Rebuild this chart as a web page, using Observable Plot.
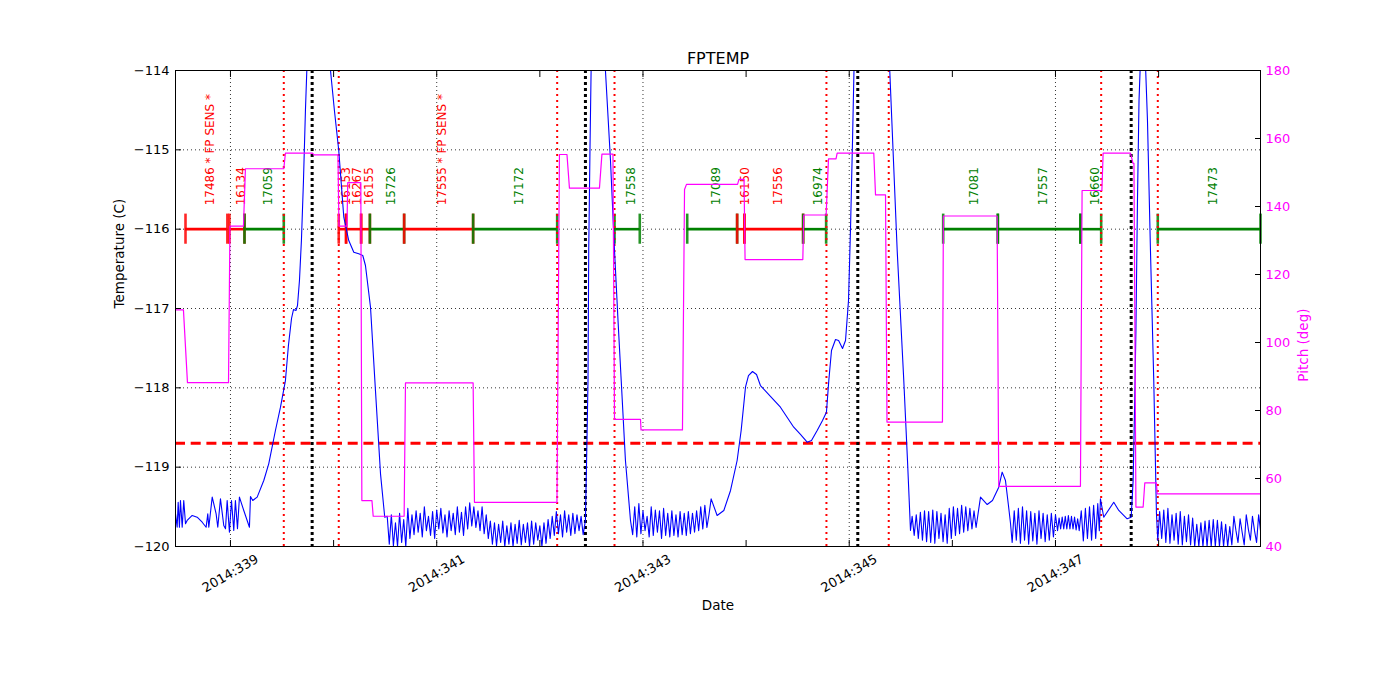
<!DOCTYPE html>
<html><head><meta charset="utf-8">
<script src="https://cdn.jsdelivr.net/npm/d3@7"></script>
<script src="https://cdn.jsdelivr.net/npm/@observablehq/plot@0.6"></script>
<style>body{margin:0;background:#fff;}</style>
</head><body><div id="chart"></div>
<script>
const chartTitle = "FPTEMP";
const xTickDays = [339,340,341,342,343,344,345,346,347,348];
const xLabelDays = [339,341,343,345,347];
const tempTicks = [-120,-119,-118,-117,-116,-115,-114];
const pitchTicks = [40,60,80,100,120,140,160,180];
const planLimit = -118.7;
const redEvents = [339.517,340.050,342.168,342.724,344.779,345.383,347.443,347.992];
const blackEvents = [339.792,342.442,345.083,347.734];

const segStart = [338.564,338.990,339.136,340.050,340.121,340.267,340.352,340.684,341.353,342.724,343.429,343.913,343.984,344.553,345.911,346.441,347.242,347.992];
const segEnd   = [338.970,339.136,339.517,340.121,340.267,340.352,340.684,341.353,342.168,342.969,343.913,343.984,344.553,344.776,346.441,347.242,347.443,348.988];
const segLabel = ["17486 * FP SENS *","16134","17059","16153","16267","16155","15726","17555 * FP SENS *","17172","17558","17089","16150","17556","16974","17081","17557","16660","17473"];
const segFlag  = [1,1,0,1,1,1,0,1,0,0,0,1,1,0,0,0,0,0];
const segLevel = -116;

const fptemp = [
[338.467,-119.588],[338.483,-119.757],[338.493,-119.442],[338.505,-119.757],[338.515,-119.420],[338.532,-119.757],[338.547,-119.420],[338.564,-119.714],[338.580,-119.672],[338.629,-119.609],[338.677,-119.631],[338.726,-119.694],[338.764,-119.757],[338.780,-119.588],[338.790,-119.757],[338.823,-119.378],[338.861,-119.588],[338.877,-119.757],[338.903,-119.399],[338.935,-119.735],[338.952,-119.777],[338.968,-119.420],[338.990,-119.820],[339.010,-119.420],[339.032,-119.798],[339.048,-119.420],[339.068,-119.777],[339.087,-119.378],[339.129,-119.546],[339.184,-119.757],[339.194,-119.370],[339.216,-119.420],[339.259,-119.378],[339.323,-119.168],[339.371,-118.958],[339.436,-118.538],[339.485,-118.244],[339.533,-117.908],[339.562,-117.466],[339.592,-117.126],[339.611,-117.013],[339.635,-117.025],[339.650,-116.962],[339.669,-116.647],[339.688,-116.143],[339.708,-115.387],[339.727,-114.504],[339.747,-113.748],[339.766,-112.866],[339.795,-112.0],[339.834,-111.37],[339.873,-111.74],[339.912,-112.36],[339.950,-113.50],[339.970,-114.0],[340.008,-114.504],[340.050,-115.008],[340.099,-115.849],[340.147,-116.143],[340.196,-116.290],[340.244,-116.311],[340.283,-116.332],[340.309,-116.458],[340.358,-116.984],[340.406,-118.034],[340.455,-119.084],[340.496,-119.631],
[340.52,-119.62],[340.54,-119.97],[340.56,-119.6],[340.58,-119.99],[340.60,-119.7],[340.62,-120.0],[340.64,-119.58],[340.66,-119.95],[340.68,-119.66],[340.70,-120.0],[340.72,-119.52],[340.74,-119.9],[340.76,-119.6],[340.78,-119.85],[340.80,-119.55],[340.82,-119.82],[340.84,-119.58],[340.86,-119.88],[340.88,-119.5],[340.90,-119.8],[340.92,-119.62],[340.94,-119.86],[340.96,-119.56],[340.98,-119.9],[341.00,-119.54],[341.02,-119.78],[341.04,-119.52],[341.06,-119.83],[341.08,-119.6],[341.10,-119.88],[341.12,-119.55],[341.14,-119.8],[341.16,-119.58],[341.18,-119.85],[341.20,-119.5],[341.22,-119.82],[341.24,-119.57],[341.26,-119.86],[341.28,-119.5],[341.30,-119.78],[341.32,-119.45],[341.34,-119.74],[341.36,-119.5],[341.38,-119.76],[341.40,-119.55],[341.42,-119.8],[341.44,-119.5],[341.46,-119.84],[341.48,-119.6],[341.50,-119.9],[341.52,-119.68],[341.54,-119.97],[341.56,-119.7],[341.58,-119.99],[341.60,-119.72],[341.62,-119.95],[341.64,-119.68],[341.66,-120.0],[341.68,-119.74],[341.70,-119.97],[341.72,-119.7],[341.74,-120.0],[341.76,-119.72],[341.78,-119.96],[341.80,-119.67],[341.82,-119.98],[341.84,-119.72],[341.86,-119.95],[341.88,-119.7],[341.90,-120.0],[341.92,-119.68],[341.94,-119.97],[341.96,-119.7],[341.98,-119.92],[342.00,-119.74],[342.02,-120.0],[342.04,-119.7],[342.06,-119.96],[342.08,-119.66],[342.10,-119.9],[342.12,-119.62],[342.14,-119.86],[342.16,-119.56],[342.18,-119.84],[342.20,-119.6],[342.22,-119.88],[342.24,-119.55],[342.26,-119.82],[342.28,-119.6],[342.30,-119.86],[342.32,-119.58],[342.34,-119.84],[342.36,-119.6],[342.38,-119.8],[342.40,-119.62],[342.42,-119.85],[342.442,-119.67],
[342.457,-118.66],[342.467,-117.908],[342.474,-116.269],[342.486,-115.008],[342.497,-114.0],[342.520,-112.11],[342.559,-111.35],[342.598,-112.36],[342.636,-114.0],[342.685,-115.134],[342.724,-116.269],[342.758,-117.151],[342.789,-117.908],[342.830,-118.916],[342.879,-119.672],
[342.90,-119.85],[342.92,-119.5],[342.94,-119.88],[342.96,-119.46],[342.98,-119.84],[343.00,-119.55],[343.02,-119.8],[343.04,-119.62],[343.06,-119.88],[343.08,-119.5],[343.10,-119.86],[343.12,-119.54],[343.14,-119.82],[343.16,-119.55],[343.18,-119.9],[343.20,-119.52],[343.22,-119.86],[343.24,-119.58],[343.26,-119.88],[343.28,-119.55],[343.30,-119.86],[343.32,-119.6],[343.34,-119.88],[343.36,-119.56],[343.38,-119.85],[343.40,-119.58],[343.42,-119.86],[343.44,-119.56],[343.46,-119.84],[343.48,-119.58],[343.50,-119.82],[343.52,-119.55],[343.54,-119.8],[343.56,-119.5],[343.58,-119.78],[343.60,-119.48],[343.62,-119.76],[343.64,-119.6],
[343.661,-119.399],[343.719,-119.609],[343.784,-119.546],[343.849,-119.294],[343.913,-118.916],[343.952,-118.538],[343.994,-117.992],[344.023,-117.845],[344.062,-117.794],[344.101,-117.832],[344.139,-117.971],[344.236,-118.109],[344.333,-118.244],[344.462,-118.496],[344.527,-118.588],[344.592,-118.685],[344.634,-118.664],[344.689,-118.538],[344.741,-118.412],[344.779,-118.307],[344.802,-117.908],[344.828,-117.529],[344.867,-117.391],[344.897,-117.403],[344.935,-117.504],[344.964,-117.403],[344.993,-116.899],[345.012,-116.017],[345.032,-114.882],[345.046,-114.0],[345.071,-112.487],[345.129,-111.227],[345.206,-110.597],[345.284,-111.10],[345.342,-112.361],[345.393,-114.0],[345.465,-116.269],[345.529,-117.908],[345.565,-118.916],[345.594,-119.798],
[345.61,-119.62],[345.63,-119.86],[345.65,-119.6],[345.67,-119.9],[345.69,-119.57],[345.71,-119.92],[345.73,-119.55],[345.75,-119.94],[345.77,-119.56],[345.79,-119.95],[345.81,-119.54],[345.83,-119.96],[345.85,-119.56],[345.87,-119.9],[345.89,-119.58],[345.91,-119.94],[345.93,-119.6],[345.95,-119.96],[345.97,-119.52],[345.99,-119.9],[346.01,-119.5],[346.03,-119.86],[346.05,-119.52],[346.07,-119.84],[346.09,-119.48],[346.11,-119.82],[346.13,-119.5],[346.15,-119.8],[346.17,-119.52],[346.19,-119.78],[346.21,-119.55],[346.23,-119.76],[346.25,-119.58],
[346.273,-119.378],[346.338,-119.471],[346.389,-119.420],[346.450,-119.252],[346.483,-119.063],[346.515,-119.168],[346.544,-119.483],[346.564,-119.710],
[346.58,-119.95],[346.60,-119.55],[346.62,-119.92],[346.64,-119.52],[346.66,-119.96],[346.68,-119.5],[346.70,-119.92],[346.72,-119.55],[346.74,-119.97],[346.76,-119.56],[346.78,-119.93],[346.80,-119.58],[346.82,-119.97],[346.84,-119.55],[346.86,-119.9],[346.88,-119.58],[346.90,-119.94],[346.92,-119.6],[346.94,-119.92],[346.96,-119.58],[346.98,-119.88],[347.00,-119.6],[347.02,-119.8],[347.035,-119.64],[347.05,-119.78],[347.065,-119.63],[347.08,-119.78],[347.095,-119.62],[347.11,-119.78],[347.125,-119.61],[347.14,-119.78],[347.155,-119.62],[347.17,-119.78],[347.185,-119.63],[347.20,-119.79],[347.215,-119.65],[347.23,-119.8],[347.25,-119.55],[347.27,-119.93],[347.29,-119.52],[347.31,-119.9],[347.33,-119.5],[347.35,-119.92],[347.37,-119.48],[347.39,-119.9],[347.41,-119.46],[347.425,-119.8],
[347.436,-119.399],[347.468,-119.631],[347.565,-119.442],[347.614,-119.546],[347.695,-119.651],[347.734,-119.631],[347.753,-119.168],[347.766,-118.324],[347.780,-117.277],[347.795,-115.639],[347.810,-114.378],[347.824,-113.874],[347.848,-113.685],[347.873,-113.937],[347.892,-114.630],[347.921,-116.269],[347.953,-117.908],[347.979,-119.584],[347.992,-119.924],
[348.01,-119.56],[348.03,-119.9],[348.05,-119.54],[348.07,-119.95],[348.09,-119.52],[348.11,-119.96],[348.13,-119.6],[348.15,-119.92],[348.17,-119.58],[348.19,-119.97],[348.21,-119.56],[348.23,-119.98],[348.25,-119.62],[348.27,-119.94],[348.29,-119.6],[348.31,-119.98],[348.33,-119.64],[348.35,-120.0],[348.37,-119.72],[348.39,-120.0],[348.41,-119.7],[348.43,-120.0],[348.45,-119.68],[348.47,-120.0],[348.49,-119.67],[348.51,-120.0],[348.53,-119.66],[348.55,-120.0],[348.57,-119.67],[348.59,-120.0],[348.61,-119.69],[348.63,-120.0],[348.65,-119.72],[348.67,-120.0],[348.69,-119.75],[348.71,-119.98],[348.73,-119.62],[348.75,-119.8],[348.77,-119.95],[348.79,-119.65],[348.81,-119.82],[348.83,-119.98],[348.85,-119.6],[348.87,-119.78],[348.89,-119.92],[348.91,-119.62],[348.93,-119.8],[348.95,-119.95],[348.97,-119.6],[348.988,-119.8]
];

const pitch = [
[338.467,109.6],[338.544,109.6],[338.583,88.2],[338.981,88.2],[338.995,134.2],[339.126,134.2],[339.145,151.1],[339.517,151.1],[339.533,155.7],[339.795,155.7],[339.810,155.2],[340.042,155.2],[340.052,134.2],[340.130,134.2],[340.137,147],[340.264,147],[340.274,53.5],[340.372,53.5],[340.384,48.9],[340.684,48.9],[340.697,88.1],[341.353,88.1],[341.366,53.0],[342.166,53.0],[342.190,155.3],[342.263,155.3],[342.287,145.4],[342.578,145.4],[342.602,155.4],[342.709,155.4],[342.724,77.4],[342.976,77.4],[342.981,74.3],[343.383,74.3],[343.403,145.0],[343.422,146.5],[343.917,146.5],[343.931,148],[343.980,148],[343.990,124.4],[344.550,124.4],[344.559,137.5],[344.776,137.5],[344.799,154],[344.872,154],[344.883,155.7],[345.238,155.7],[345.255,143.4],[345.352,143.4],[345.366,76.6],[345.904,76.6],[345.913,137.2],[346.434,137.2],[346.450,57.7],[347.242,57.7],[347.258,144.7],[347.450,144.7],[347.462,155.7],[347.727,155.7],[347.752,152.7],[347.761,152.7],[347.780,51.6],[347.850,51.6],[347.866,58.7],[347.979,58.7],[347.986,55.5],[348.988,55.5]
];

const RED = "#ff0000", GREEN = "#008000", BLUE = "#0000ff", MAG = "#ff00ff";
const toT = d3.scaleLinear().domain([40,180]).range([-120,-114]);
const segIdx = d3.range(segLabel.length);
const segColor = i => segFlag[i] ? RED : GREEN;
const ends = segIdx.flatMap(i => [{x: segStart[i], i}, {x: segEnd[i], i}]);
const tickHalf = 0.19;

const chart = Plot.plot({
  width: 1400, height: 700,
  marginLeft: 175, marginRight: 140, marginTop: 70, marginBottom: 154,
  style: {fontFamily: "DejaVu Sans, sans-serif", fontSize: "13px", background: "white", color: "black"},
  x: {domain: [338.467, 348.988]},
  y: {domain: [-120, -114]},
  color: {type: "identity"},
  marks: [
    Plot.gridX(xLabelDays, {stroke: "black", strokeOpacity: 1, strokeWidth: 0.8, strokeDasharray: "1,3"}),
    Plot.gridY(tempTicks.slice(1, -1), {stroke: "black", strokeOpacity: 1, strokeWidth: 0.8, strokeDasharray: "1,3"}),
    Plot.ruleY([planLimit], {stroke: RED, strokeWidth: 3, strokeDasharray: "10,5.7"}),
    Plot.ruleY(segIdx, {x1: i => segStart[i], x2: i => segEnd[i], y: segLevel, stroke: segColor, strokeWidth: 2.6}),
    Plot.ruleX(ends, {x: "x", y1: segLevel - tickHalf, y2: segLevel + tickHalf, stroke: d => segColor(d.i), strokeWidth: 2.6, strokeOpacity: 0.85}),
    Plot.text(segIdx, {x: i => (segStart[i] + segEnd[i]) / 2, y: segLevel + 0.3, text: i => segLabel[i], rotate: -90, textAnchor: "start", lineAnchor: "middle", dx: 4, fill: segColor, fontSize: 12}),
    Plot.ruleX(redEvents, {stroke: RED, strokeWidth: 2, strokeDasharray: "2,4"}),
    Plot.ruleX(blackEvents, {stroke: "black", strokeWidth: 3, strokeDasharray: "3,3"}),
    Plot.line(fptemp, {x: d => d[0], y: d => d[1], stroke: BLUE, strokeWidth: 1.1, clip: true}),
    Plot.line(pitch, {x: d => d[0], y: d => toT(d[1]), stroke: MAG, strokeWidth: 1.2, clip: true}),
    Plot.frame({stroke: "black", strokeWidth: 1}),
    Plot.axisX(xTickDays, {anchor: "bottom", tickSize: -6, tickFormat: () => "", label: null}),
    Plot.axisX(xTickDays, {anchor: "top", tickSize: -6, tickFormat: () => "", label: null}),
    Plot.text(xLabelDays, {x: d => d, frameAnchor: "bottom", dy: 27, rotate: -30, lineAnchor: "middle", textAnchor: "middle", text: d => "2014:" + d, fontSize: 13}),
    Plot.axisY(tempTicks, {anchor: "left", tickSize: 0, tickPadding: 6, tickFormat: d3.format("d"), fontSize: 13, label: null}),
    Plot.axisY(tempTicks, {anchor: "left", tickSize: -6, tickFormat: () => "", label: null}),
    Plot.axisY(pitchTicks.map(toT), {anchor: "right", tickSize: 0, tickPadding: 5, tickFormat: t => String(Math.round(toT.invert(t))), color: MAG, fontSize: 13, label: null}),
    Plot.axisY(pitchTicks.map(toT), {anchor: "right", tickSize: -6, tickFormat: () => "", label: null}),
    Plot.text([chartTitle], {frameAnchor: "top", dy: -12, lineAnchor: "middle", text: d => d, fontSize: 16}),
    Plot.text(["Date"], {frameAnchor: "bottom", dy: 59, lineAnchor: "middle", text: d => d, fontSize: 13.5}),
    Plot.text(["Temperature (C)"], {frameAnchor: "left", dx: -56, rotate: -90, lineAnchor: "middle", text: d => d, fontSize: 13.5}),
    Plot.text(["Pitch (deg)"], {frameAnchor: "right", dx: 43, rotate: -90, lineAnchor: "middle", text: d => d, fill: MAG, fontSize: 13.5})
  ]
});
document.getElementById("chart").appendChild(chart);
</script>
</body></html>
